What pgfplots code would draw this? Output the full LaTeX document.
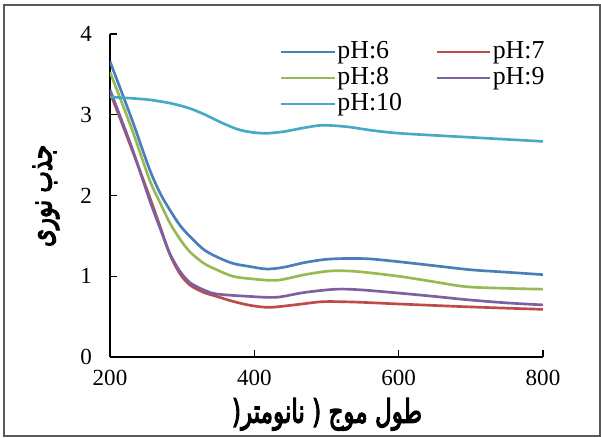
\documentclass[border=0pt]{standalone}
\usepackage{fontspec}
\setmainfont{Liberation Serif}
\newfontfamily\arabicfont[Script=Arabic, FakeBold=4]{DejaVu Sans}
\usepackage{graphicx}
\usepackage{pgfplots}
\pgfplotsset{compat=1.18}
\TeXXeTstate=1
\definecolor{c6}{HTML}{4A7EBB}
\definecolor{c7}{HTML}{BE4B48}
\definecolor{c8}{HTML}{98B954}
\definecolor{c9}{HTML}{7D60A0}
\definecolor{c10}{HTML}{46AAC5}
\begin{document}
\begin{tikzpicture}
\useasboundingbox (-82.5pt,-60pt) rectangle (368.25pt,267.75pt);
\draw[black!65, line width=0.9pt] (-79.5pt,-59.25pt) rectangle (367.5pt,264pt);
\begin{axis}[
  at={(0pt,0pt)}, anchor=south west,
  scale only axis, width=324.75pt, height=242.25pt,
  xmin=200, xmax=800, ymin=0, ymax=4,
  xtick={200,400,600,800}, ytick={0,1,2,3,4},
  axis x line=bottom, axis y line=left,
  axis line style={-, line width=1.1pt, black},
  tick style={line width=1.1pt, black},
  major tick length=5pt, tick align=inside,
  ticklabel style={font=\fontsize{17.3}{20}\selectfont},
  /pgf/number format/assume math mode=true,
  yticklabel style={xshift=-10pt},
  xticklabel style={yshift=-6pt},
  legend columns=2,
  legend cell align=left,
  legend style={draw=none, fill=none, at={(rel axis cs:0.383,0.994)}, anchor=north west,
    font=\fontsize{19.4}{21}\selectfont,
    nodes={inner sep=1pt, text height=13.5pt, text depth=4pt},
    /tikz/every even column/.append style={column sep=24pt}},
  legend image code/.code={\draw[#1, line width=2pt] (0pt,0pt) -- (40pt,0pt);},
  every axis plot/.append style={line width=2pt, smooth},
]
\addplot[c6] coordinates {(200,3.66) (230,2.95) (255,2.32) (270,2.02) (283,1.82) (297,1.63) (311,1.49) (330,1.33) (348,1.24) (370,1.16) (394,1.12) (417,1.09) (440,1.11) (470,1.17) (500,1.21) (530,1.22) (560,1.215) (600,1.18) (650,1.13) (700,1.08) (750,1.05) (800,1.02)};
\addlegendentry{pH:6}
\addplot[c7] coordinates {(200,3.28) (230,2.58) (255,1.98) (270,1.60) (283,1.27) (297,1.03) (311,0.89) (330,0.80) (348,0.75) (370,0.69) (394,0.64) (421,0.615) (460,0.65) (495,0.685) (540,0.68) (602,0.656) (700,0.62) (800,0.59)};
\addlegendentry{pH:7}
\addplot[c8] coordinates {(200,3.53) (230,2.83) (255,2.19) (270,1.90) (283,1.66) (297,1.46) (311,1.30) (330,1.16) (348,1.08) (370,1.00) (394,0.97) (431,0.95) (470,1.02) (505,1.065) (540,1.06) (600,1.00) (650,0.93) (694,0.87) (750,0.85) (800,0.84)};
\addlegendentry{pH:8}
\addplot[c9] coordinates {(200,3.31) (230,2.60) (255,1.94) (270,1.58) (283,1.28) (297,1.06) (311,0.92) (330,0.83) (348,0.78) (394,0.75) (431,0.74) (470,0.80) (514,0.84) (550,0.83) (602,0.79) (650,0.75) (694,0.71) (750,0.67) (800,0.645)};
\addlegendentry{pH:9}
\addplot[c10] coordinates {(200,3.22) (250,3.19) (285,3.14) (310,3.08) (332,3.00) (355,2.90) (377,2.82) (395,2.785) (415,2.77) (440,2.79) (470,2.84) (495,2.87) (530,2.85) (560,2.81) (602,2.77) (700,2.72) (800,2.67)};
\addlegendentry{pH:10}
\end{axis}
\node at (162.75pt,-43pt) {\scalebox{1}[1.4]{\resizebox{142.5pt}{!}{\arabicfont\fontsize{17}{20}\selectfont (\beginR نانومتر\endR\ (\ \beginR طول موج\endR}}};
\node[rotate=90] at (-48pt,120.75pt) {\scalebox{1}[1.4]{\resizebox{76.5pt}{!}{\arabicfont\fontsize{17}{20}\selectfont\beginR جذب نوری\endR}}};
\end{tikzpicture}
\end{document}
